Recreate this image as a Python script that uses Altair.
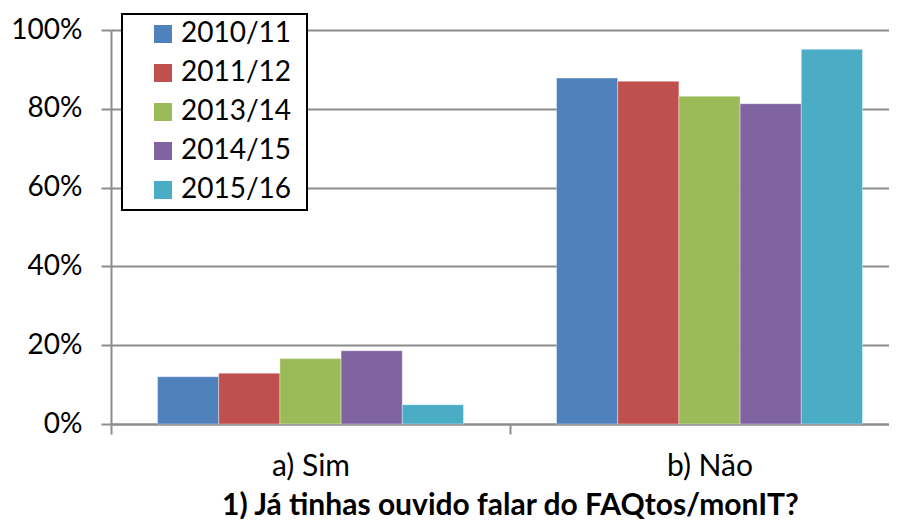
import altair as alt
import pandas as pd

categories = ["a) Sim", "b) Não"]
years = ["2010/11", "2011/12", "2013/14", "2014/15", "2015/16"]
sim = [12.0, 12.9, 16.6, 18.6, 4.9]
nao = [87.8, 87.0, 83.2, 81.3, 95.1]
colors = ["#4F81BD", "#C0504D", "#9BBB59", "#8064A2", "#4BACC6"]

rows = []
for cat, vals in zip(categories, [sim, nao]):
    for i, (yr, v) in enumerate(zip(years, vals)):
        rows.append({"cat": cat, "year": yr, "order": i, "value": v / 100})
df = pd.DataFrame(rows)

FONT = "Lato"
GRID = "#8c8c8c"

chart = alt.Chart(df).mark_bar(stroke="white", strokeWidth=0.6, strokeOpacity=0.6).encode(
    x=alt.X("cat:N", sort=categories,
            scale=alt.Scale(paddingInner=0, paddingOuter=0, range=[0, 798]),
            axis=alt.Axis(title="1) Já tinhas ouvido falar do FAQtos/monIT?",
                          labelAngle=0, labelFontSize=30, labelFont=FONT, labelColor="black",
                          labelBaseline="alphabetic", labelPadding=41,
                          tickBand="extent", tickSize=10, tickColor=GRID,
                          tickWidth=2, domainColor=GRID, domainWidth=2,
                          titleFont=FONT, titleFontSize=30, titleFontWeight="bold",
                          titleColor="black", titleBaseline="alphabetic", titleY=90)),
    xOffset=alt.XOffset("year:N", sort=years,
                        scale=alt.Scale(paddingInner=0, paddingOuter=0.76)),
    y=alt.Y("value:Q",
            scale=alt.Scale(domain=[0, 1], nice=False),
            axis=alt.Axis(title=None, format=".0%", values=[0, 0.2, 0.4, 0.6, 0.8, 1.0],
                          labelFontSize=28, labelFont=FONT, labelColor="black",
                          labelPadding=19, tickSize=10, tickColor=GRID, tickWidth=2,
                          domainColor=GRID, domainWidth=2,
                          grid=True, gridColor=GRID, gridWidth=2)),
    color=alt.Color("year:N", sort=years,
                    scale=alt.Scale(domain=years, range=colors),
                    legend=alt.Legend(title=".", titleOrient="right", titleFontSize=2,
                                      titleColor="transparent", titlePadding=9,
                                      orient="none", legendX=11, legendY=-16,
                                      direction="vertical", symbolType="square",
                                      symbolSize=324, symbolStrokeWidth=0,
                                      labelFontSize=28, labelFont=FONT, labelColor="black",
                                      padding=6, symbolOffset=21, labelOffset=4,
                                      rowPadding=11, fillColor="white",
                                      strokeColor="black")),
).properties(
    width=778, height=394,
    autosize=alt.AutoSizeParams(type="none"),
    padding={"left": 103, "top": 22, "right": 0, "bottom": 95},
).configure_view(stroke=None).configure_legend(strokeWidth=2)

chart.save("out.html", embed_options={"renderer": "svg", "actions": False})
